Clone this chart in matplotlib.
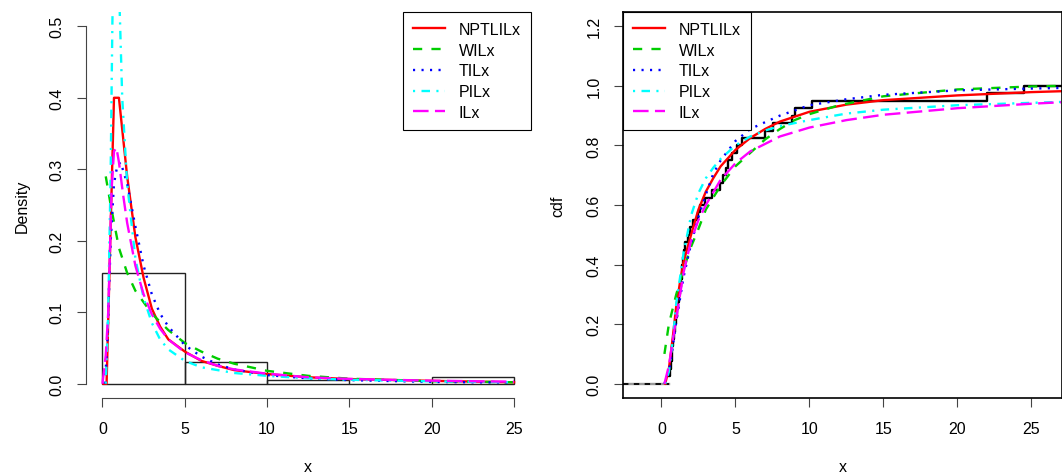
import numpy as np
import matplotlib.pyplot as plt

plt.rcParams['font.family'] = ['Liberation Sans', 'DejaVu Sans']
plt.rcParams['font.size'] = 11.5

sample = [0.52, 0.55, 0.62, 0.70, 0.74, 0.81, 0.86, 0.92, 1.00, 1.04,
          1.10, 1.18, 1.26, 1.30, 1.36, 1.42, 1.46, 1.49, 1.60, 1.80,
          1.94, 2.16, 2.50, 2.61, 2.95, 3.41, 3.97, 4.19, 4.35, 4.53,
          4.76, 5.09, 5.43, 7.01, 7.57, 8.81, 9.03, 10.2, 22.0, 24.5]
bins = [0, 5, 10, 15, 20, 25]

# fitted densities (left panel)
pdf_nptlilx_x = [0.05, 0.25, 0.7, 1.0, 1.5, 2.0, 2.5, 3.0, 3.5, 4.0, 5.0, 6.0, 7.0, 8.0, 10, 12.5, 15, 20, 25]
pdf_nptlilx_y = [0.0, 0.0, 0.40, 0.40, 0.29, 0.205, 0.148, 0.105, 0.08, 0.062, 0.045, 0.032, 0.025, 0.019, 0.0135, 0.009, 0.0065, 0.004, 0.002]
pdf_wilx_x = [0.2, 0.5, 1.0, 1.5, 2.0, 3.0, 4.0, 5.0, 6.0, 7.0, 8.0, 10, 12.5, 15, 20, 25]
pdf_wilx_y = [0.29, 0.25, 0.19, 0.155, 0.13, 0.098, 0.075, 0.057, 0.045, 0.035, 0.028, 0.018, 0.011, 0.007, 0.0035, 0.002]
pdf_tilx_x = [0.15, 0.3, 0.5, 0.7, 0.9, 1.1, 1.5, 2.0, 2.5, 3.0, 3.5, 4.0, 5.0, 6.0, 7.0, 8.0, 10, 12.5, 15, 20, 25]
pdf_tilx_y = [0.0, 0.06, 0.2, 0.28, 0.305, 0.31, 0.28, 0.22, 0.165, 0.125, 0.098, 0.08, 0.054, 0.038, 0.027, 0.02, 0.012, 0.0075, 0.005, 0.0025, 0.0015]
pdf_pilx_x = [0.2, 0.35, 0.5, 0.6, 0.7, 0.8, 0.9, 1.05, 1.2, 1.5, 2.0, 2.5, 3.0, 3.5, 4.0, 5.0, 6.0, 7.0, 8.0, 10, 12.5, 15, 20, 25]
pdf_pilx_y = [0.0, 0.1, 0.3, 0.5, 0.65, 0.7, 0.65, 0.52, 0.40, 0.28, 0.175, 0.12, 0.085, 0.062, 0.048, 0.032, 0.023, 0.019, 0.015, 0.011, 0.0075, 0.0055, 0.0033, 0.002]
pdf_ilx_x = [0.0, 0.2, 0.35, 0.45, 0.55, 0.7, 0.85, 1.0, 1.25, 1.5, 2.0, 2.5, 3.0, 3.5, 4.0, 5.0, 6.0, 7.0, 8.0, 10, 12.5, 15, 20, 25]
pdf_ilx_y = [0.0, 0.04, 0.1, 0.18, 0.27, 0.325, 0.33, 0.31, 0.265, 0.225, 0.165, 0.125, 0.097, 0.077, 0.062, 0.044, 0.033, 0.025, 0.02, 0.014, 0.009, 0.0067, 0.0042, 0.0028]

# fitted cdfs (right panel)
cdf_nptlilx_x = [0.25, 0.5, 0.75, 1.0, 1.25, 1.5, 2.0, 2.5, 3.0, 3.5, 4.0, 5.0, 6.0, 7.0, 8.0, 10, 12.5, 15, 20, 25, 27]
cdf_nptlilx_y = [0.0, 0.05, 0.15, 0.26, 0.34, 0.41, 0.50, 0.585, 0.645, 0.69, 0.73, 0.785, 0.825, 0.855, 0.88, 0.913, 0.937, 0.952, 0.968, 0.979, 0.982]
cdf_wilx_x = [0.2, 0.5, 1.0, 1.5, 2.0, 2.5, 3.0, 4.0, 5.0, 6.0, 7.0, 8.0, 9.0, 10, 12, 15, 20, 25, 27]
cdf_wilx_y = [0.1, 0.2, 0.3, 0.385, 0.46, 0.52, 0.585, 0.665, 0.73, 0.775, 0.82, 0.855, 0.885, 0.905, 0.935, 0.965, 0.988, 0.998, 1.0]
cdf_tilx_x = [0.2, 0.5, 0.75, 1.0, 1.5, 2.0, 2.5, 3.0, 3.5, 4.0, 5.0, 6.0, 7.0, 8.0, 10, 12.5, 15, 20, 25, 27]
cdf_tilx_y = [0.0, 0.04, 0.12, 0.21, 0.36, 0.47, 0.56, 0.635, 0.705, 0.75, 0.815, 0.855, 0.878, 0.9, 0.935, 0.955, 0.97, 0.985, 0.991, 0.993]
cdf_pilx_x = [0.25, 0.5, 0.75, 1.0, 1.5, 2.0, 2.5, 3.0, 3.5, 4.0, 5.0, 6.0, 7.0, 8.0, 10, 12.5, 15, 20, 25, 27]
cdf_pilx_y = [0.0, 0.04, 0.14, 0.27, 0.44, 0.565, 0.64, 0.69, 0.725, 0.755, 0.8, 0.83, 0.85, 0.865, 0.885, 0.907, 0.92, 0.935, 0.943, 0.946]
cdf_ilx_x = [0.2, 0.5, 0.75, 1.0, 1.5, 2.0, 2.5, 3.0, 4.0, 5.0, 6.0, 7.0, 8.0, 10, 12.5, 15, 20, 25, 27]
cdf_ilx_y = [0.0, 0.06, 0.14, 0.22, 0.375, 0.48, 0.55, 0.6, 0.685, 0.74, 0.78, 0.805, 0.83, 0.86, 0.885, 0.903, 0.925, 0.94, 0.945]

labels = ['NPTLILx', 'WILx', 'TILx', 'PILx', 'ILx']
colors = ['#FF0000', '#00CD00', '#0000FF', '#00FFFF', '#FF00FF']
dashes = [None, (3.9, 3.9), (0.9, 2.7), (0.9, 2.7, 3.6, 2.7), (6.6, 2.7)]
LW = 1.7

pdfs = [(pdf_nptlilx_x, pdf_nptlilx_y), (pdf_wilx_x, pdf_wilx_y), (pdf_tilx_x, pdf_tilx_y),
        (pdf_pilx_x, pdf_pilx_y), (pdf_ilx_x, pdf_ilx_y)]
cdfs = [(cdf_nptlilx_x, cdf_nptlilx_y), (cdf_wilx_x, cdf_wilx_y), (cdf_tilx_x, cdf_tilx_y),
        (cdf_pilx_x, cdf_pilx_y), (cdf_ilx_x, cdf_ilx_y)]

W, H = 1062, 477
fig = plt.figure(figsize=(W / 100, H / 100), dpi=100)
ax1 = fig.add_axes([86 / W, 78 / H, 444.5 / W, 386 / H])
ax2 = fig.add_axes([623.3 / W, 78 / H, 438.7 / W, 386 / H])


def styled(ax, x, y, i):
    ln, = ax.plot(x, y, color=colors[i], lw=LW, label=labels[i])
    if dashes[i] is not None:
        ln.set_dashes(dashes[i])
    return ln


def r_axes(ax):
    ax.tick_params(direction='out', length=6.5, width=0.8, color='#444444',
                   labelsize=11.5, pad=10)
    ax.tick_params(axis='y', labelrotation=90, pad=9)
    for lab in ax.get_yticklabels():
        lab.set_va('center')


def r_legend(ax, handles, loc):
    leg = ax.legend(handles=handles, loc=loc, borderaxespad=0, fancybox=False,
                    framealpha=1, edgecolor='black', handlelength=2.0,
                    handletextpad=0.85, labelspacing=0.36, borderpad=0.62,
                    fontsize=11.5)
    leg.get_frame().set_linewidth(0.8)
    return leg


# ---- left: histogram + densities
ax1.hist(sample, bins=bins, density=True, fill=False, edgecolor='#222222', lw=1)
h1 = [styled(ax1, x, y, i) for i, (x, y) in enumerate(pdfs)]
ax1.set_xlim(-1, 26)
ax1.set_ylim(-0.02, 0.52)
ax1.set_xticks([0, 5, 10, 15, 20, 25])
ax1.set_yticks([0.0, 0.1, 0.2, 0.3, 0.4, 0.5])
ax1.set_yticklabels(['0.0', '0.1', '0.2', '0.3', '0.4', '0.5'])
for s in ['top', 'right']:
    ax1.spines[s].set_visible(False)
ax1.spines['left'].set_bounds(0, 0.5)
ax1.spines['bottom'].set_bounds(0, 25)
for s in ['left', 'bottom']:
    ax1.spines[s].set_color('#444444')
    ax1.spines[s].set_linewidth(0.8)
r_axes(ax1)
ax1.set_xlabel('x')
ax1.set_ylabel('Density')
ax1.xaxis.set_label_coords(0.5, (399 - 468) / 386)
ax1.xaxis.label.set_va('center')
ax1.yaxis.set_label_coords((22 - 86) / 444.5, 0.5)
ax1.yaxis.label.set_va('center')
r_legend(ax1, h1, 'upper right')

# ---- right: ecdf + fitted cdfs
xs = np.sort(np.array(sample))
n = len(xs)
ax2.set_xlim(-2.58, 27.07)
ax2.set_ylim(-0.048, 1.248)
x0, x1 = ax2.get_xlim()
fx = np.concatenate([xs, [x1]])
fy = np.arange(1, n + 2) / n
fy[-1] = 1.0
ax2.step(fx, fy, where='post', color='black', lw=LW, zorder=2)
ax2.plot([x0, xs[0]], [0, 0], color='#999999', lw=LW, zorder=2)
ax2.plot([x0, xs[0]], [0, 0], color='black', lw=1.3, dashes=(3, 3), zorder=2)
h2 = [styled(ax2, x, y, i) for i, (x, y) in enumerate(cdfs)]
ax2.set_xticks([0, 5, 10, 15, 20, 25])
ax2.set_yticks([0.0, 0.2, 0.4, 0.6, 0.8, 1.0, 1.2])
ax2.set_yticklabels(['0.0', '0.2', '0.4', '0.6', '0.8', '1.0', '1.2'])
for s in ax2.spines.values():
    s.set_color('black')
    s.set_linewidth(1.2)
r_axes(ax2)
ax2.set_xlabel('x')
ax2.set_ylabel('cdf')
ax2.xaxis.set_label_coords(0.5, (399 - 468) / 386)
ax2.xaxis.label.set_va('center')
ax2.yaxis.set_label_coords((558 - 623.3) / 438.7, 0.5)
ax2.yaxis.label.set_va('center')
r_legend(ax2, h2, 'upper left')

fig.savefig('out.png', dpi=100)
